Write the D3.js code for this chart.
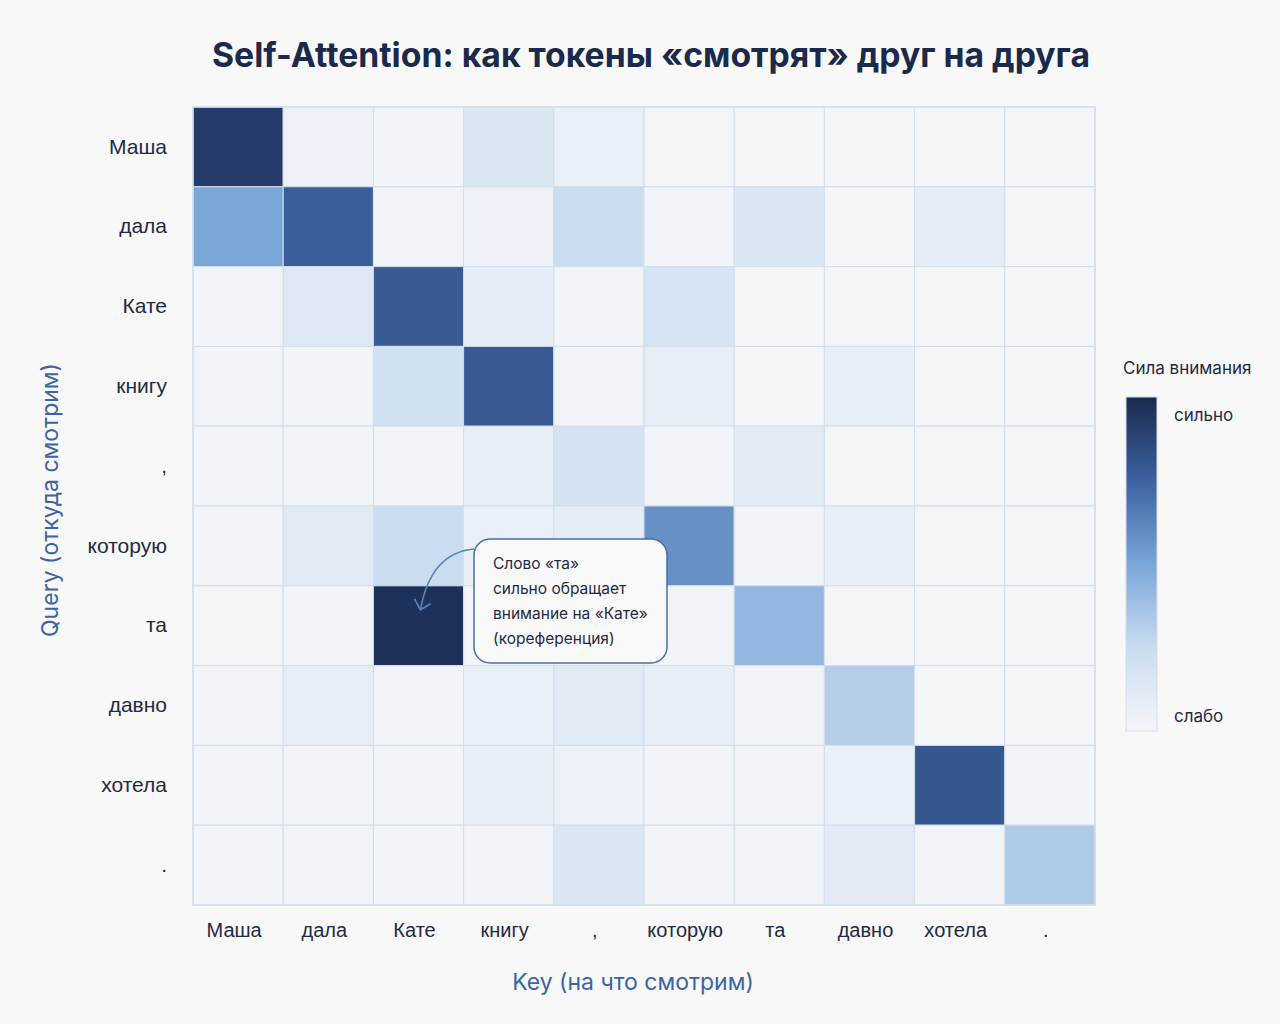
<!DOCTYPE html>
<html lang="ru">
<head>
<meta charset="UTF-8">
<title>Self-Attention</title>
<script src="https://d3js.org/d3.v7.min.js"></script>
<style>
body {
  margin: 0;
  background: #f8f8f8;
  font-family: Inter, "Noto Sans", Arial, sans-serif;
}
svg { display: block; }
.tick text { fill: #1f2a44; }
</style>
</head>
<body>
<div id="chart"></div>
<script>
// tokens (same order on both axes)
var tokens = ["Маша", "дала", "Кате", "книгу", ",", "которую", "та", "давно", "хотела", "."];

// attention weights, rows = query, cols = key
var rowМаша   = [0.92, 0.04, 0.02, 0.14, 0.06, 0.01, 0.01, 0.01, 0.01, 0.01];
var rowДала   = [0.50, 0.77, 0.03, 0.04, 0.25, 0.02, 0.14, 0.01, 0.09, 0.01];
var rowКате   = [0.02, 0.13, 0.78, 0.09, 0.02, 0.17, 0.01, 0.01, 0.01, 0.01];
var rowКнигу  = [0.03, 0.02, 0.20, 0.78, 0.02, 0.08, 0.01, 0.08, 0.01, 0.01];
var rowComma  = [0.02, 0.02, 0.02, 0.07, 0.19, 0.02, 0.10, 0.01, 0.01, 0.01];
var rowКоторую= [0.02, 0.12, 0.25, 0.06, 0.09, 0.58, 0.02, 0.08, 0.01, 0.01];
var rowТа     = [0.01, 0.02, 0.97, 0.02, 0.03, 0.02, 0.42, 0.01, 0.01, 0.01];
var rowДавно  = [0.02, 0.08, 0.02, 0.06, 0.12, 0.08, 0.02, 0.32, 0.01, 0.01];
var rowХотела = [0.02, 0.02, 0.02, 0.07, 0.05, 0.02, 0.02, 0.06, 0.80, 0.02];
var rowDot    = [0.02, 0.03, 0.02, 0.03, 0.14, 0.02, 0.03, 0.11, 0.02, 0.33];

var weights = [rowМаша, rowДала, rowКате, rowКнигу, rowComma, rowКоторую, rowТа, rowДавно, rowХотела, rowDot];

var colorStops = [0, 0.25, 0.5, 0.75, 1];
var colorRange = ["#f5f6f9", "#c9dcf0", "#7aa6d8", "#3c62a0", "#1a2a50"];

var note = ["Слово «та»", "сильно обращает", "внимание на «Кате»", "(кореференция)"];

var W = 1280, H = 1024;
var gLeft = 193, gRight = 1095, gTop = 107, gBottom = 905;

var svg = d3.select("#chart").append("svg")
  .attr("width", W).attr("height", H);

svg.append("rect").attr("width", W).attr("height", H).attr("fill", "#f8f8f8");

var x = d3.scaleBand().domain(tokens).range([gLeft, gRight]);
var y = d3.scaleBand().domain(tokens).range([gTop, gBottom]);
var color = d3.scaleLinear().domain(colorStops).range(colorRange).interpolate(d3.interpolateRgb);

// flatten cells
var cells = [];
weights.forEach(function(row, i) {
  row.forEach(function(v, j) {
    cells.push({q: tokens[i], k: tokens[j], v: v});
  });
});

svg.append("g").selectAll("rect")
  .data(cells)
  .enter().append("rect")
  .attr("x", function(d) { return x(d.k); })
  .attr("y", function(d) { return y(d.q); })
  .attr("width", x.bandwidth())
  .attr("height", y.bandwidth())
  .attr("fill", function(d) { return color(d.v); })
  .attr("stroke", "#d2deea")
  .attr("stroke-width", 1);

svg.append("rect")
  .attr("x", gLeft).attr("y", gTop)
  .attr("width", gRight - gLeft).attr("height", gBottom - gTop)
  .attr("fill", "none").attr("stroke", "#d2deea").attr("stroke-width", 1.5);

// axes
var xAxis = svg.append("g")
  .attr("transform", "translate(0," + gBottom + ")")
  .call(d3.axisBottom(x).tickSize(0).tickPadding(18));
xAxis.select(".domain").remove();
xAxis.selectAll("text").style("font-size", "20px").attr("dx", "-4");

var yAxis = svg.append("g")
  .attr("transform", "translate(" + gLeft + ",0)")
  .call(d3.axisLeft(y).tickSize(0).tickPadding(26));
yAxis.select(".domain").remove();
yAxis.selectAll("text").style("font-size", "21px");

// title
svg.append("text")
  .attr("x", 651).attr("y", 67)
  .attr("text-anchor", "middle")
  .attr("fill", "#1b2a4a")
  .style("font-size", "34px").style("font-weight", "700")
  .attr("textLength", 878).attr("lengthAdjust", "spacingAndGlyphs")
  .text("Self-Attention: как токены «смотрят» друг на друга");

// axis titles
svg.append("text")
  .attr("x", 633).attr("y", 990)
  .attr("text-anchor", "middle")
  .attr("fill", "#3d64a3")
  .style("font-size", "23px")
  .text("Key (на что смотрим)");

svg.append("text")
  .attr("transform", "translate(58,500) rotate(-90)")
  .attr("text-anchor", "middle")
  .attr("fill", "#3d64a3")
  .style("font-size", "23px")
  .text("Query (откуда смотрим)");

// legend
var lgX = 1126, lgTop = 397, lgBot = 731, lgW = 31;
var defs = svg.append("defs");
var grad = defs.append("linearGradient").attr("id", "lg")
  .attr("x1", 0).attr("y1", 1).attr("x2", 0).attr("y2", 0);
grad.selectAll("stop").data(colorStops).enter().append("stop")
  .attr("offset", function(d) { return d * 100 + "%"; })
  .attr("stop-color", function(d) { return color(d); });

svg.append("text")
  .attr("x", 1123).attr("y", 374)
  .attr("fill", "#1f2a44").style("font-size", "17px")
  .text("Сила внимания");

svg.append("rect")
  .attr("x", lgX).attr("y", lgTop)
  .attr("width", lgW).attr("height", lgBot - lgTop)
  .attr("fill", "url(#lg)")
  .attr("stroke", "#d6dde6").attr("stroke-width", 1);

var lgScale = d3.scaleLinear().domain([0, 1]).range([lgBot - 15, lgTop + 18]);
svg.append("text").attr("x", 1174).attr("y", lgScale(1) + 6)
  .attr("fill", "#1f2a44").style("font-size", "17px").text("сильно");
svg.append("text").attr("x", 1174).attr("y", lgScale(0) + 6)
  .attr("fill", "#1f2a44").style("font-size", "17px").text("слабо");

// annotation
var bx = 474, by = 539, bw = 193, bh = 124;
var target = {x: x("Кате") + x.bandwidth() / 2 + 2, y: y("та") + 24};

svg.append("path")
  .attr("d", "M" + bx + "," + (by + 10) + " Q" + (target.x + 10) + "," + (by + 14) + " " + target.x + "," + target.y)
  .attr("fill", "none").attr("stroke", "#5a82bb").attr("stroke-width", 1.6);
svg.append("path")
  .attr("d", "M" + (target.x - 6) + "," + (target.y - 11) + " L" + target.x + "," + target.y + " L" + (target.x + 10) + "," + (target.y - 6))
  .attr("fill", "none").attr("stroke", "#5a82bb").attr("stroke-width", 1.6);

svg.append("rect")
  .attr("x", bx).attr("y", by).attr("width", bw).attr("height", bh)
  .attr("rx", 16).attr("ry", 16)
  .attr("fill", "#f9f9fa").attr("stroke", "#4a6ea8").attr("stroke-width", 1.5);

svg.append("g").selectAll("text")
  .data(note)
  .enter().append("text")
  .attr("x", bx + 19)
  .attr("y", function(d, i) { return by + 30 + i * 25; })
  .attr("fill", "#1f2a44")
  .style("font-size", "15.5px")
  .text(function(d) { return d; });
</script>
</body>
</html>
